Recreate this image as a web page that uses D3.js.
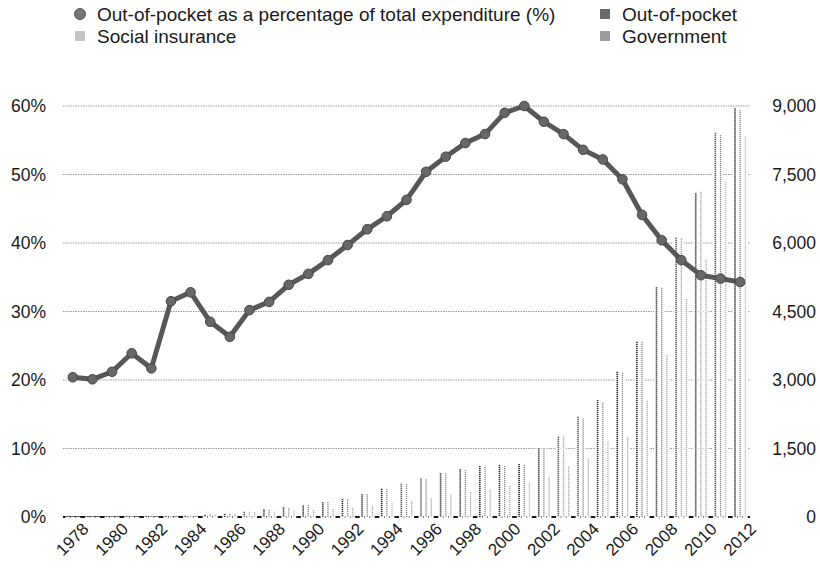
<!DOCTYPE html>
<html><head><meta charset="utf-8">
<script src="https://cdn.jsdelivr.net/npm/d3@7"></script>
<style>
body{margin:0;background:#fff}
svg{display:block}
text{font-family:"Liberation Sans",Arial,Helvetica,sans-serif;fill:#1a1a1a}
</style>
</head><body>
<svg id="c" width="820" height="569"></svg>
<script>
const years = [1978,1979,1980,1981,1982,1983,1984,1985,1986,1987,1988,1989,1990,1991,1992,1993,1994,1995,1996,1997,1998,1999,2000,2001,2002,2003,2004,2005,2006,2007,2008,2009,2010,2011,2012];
const oopPct = [20.4,20.1,21.2,23.9,21.7,31.5,32.8,28.5,26.3,30.2,31.4,33.9,35.5,37.5,39.7,42.0,43.9,46.3,50.4,52.6,54.6,55.9,59.0,60.0,57.7,55.9,53.6,52.2,49.3,44.1,40.4,37.5,35.3,34.8,34.3];
const outOfPocket = [8,10,12,15,17,20,26,45,65,117,168,212,250,321,394,496,620,730,845,956,1044,1117,1139,1161,1504,1759,2197,2562,3182,3839,5030,6117,7088,8416,8949];
const socialInsurance = [7,9,11,13,15,18,24,55,70,117,153,190,263,328,394,496,613,723,828,956,1029,1102,1117,1139,1504,1759,2161,2500,3160,3839,5021,6095,7124,8365,8912];
const government = [5,6,7,8,9,11,14,45,55,102,117,145,153,175,204,241,314,350,409,496,540,606,679,752,869,1102,1285,1650,1745,2547,3547,4774,5628,7343,8329];
const pctTicks = [0,10,20,30,40,50,60];
const valTicks = [0,1500,3000,4500,6000,7500,9000];

const seriesKeys = ["Out-of-pocket","Social insurance","Government"];
const seriesData = [outOfPocket, socialInsurance, government];
const seriesColor = ["#2a2a2a","#8a8a8a","#a8a8a8"];
const lineLabel = "Out-of-pocket as a percentage of total expenditure (%)";

const svg = d3.select("#c");
const mLeft = 63, mRight = 750, mTop = 106, mBottom = 517;

const x = d3.scaleBand().domain(years).range([mLeft, mRight]).padding(0);
const bw = x.bandwidth();
const inner = d3.scaleBand().domain(seriesKeys).range([bw/2 - 7.5, bw/2 + 7.5]).paddingInner(0.1);
const yL = d3.scaleLinear().domain([0, 60]).range([mBottom, mTop]);
const yR = d3.scaleLinear().domain([0, 9000]).range([mBottom, mTop]);

// gridlines
svg.append("g").selectAll("line").data(pctTicks.filter(d => d > 0)).join("line")
  .attr("x1", mLeft).attr("x2", mRight)
  .attr("y1", d => yL(d)).attr("y2", d => yL(d))
  .attr("stroke", "#9a9a9a").attr("stroke-width", 1).attr("stroke-dasharray", "1.5,1");

// baseline
svg.append("line").attr("x1", mLeft).attr("x2", mRight).attr("y1", yL(0)).attr("y2", yL(0))
  .attr("stroke", "#1a1a1a").attr("stroke-width", 2);

// bars
const barG = svg.append("g");
seriesKeys.forEach((k, si) => {
  const g = barG.append("g");
  const vals = seriesData[si];
  g.selectAll("rect").data(years).join("rect")
    .attr("x", (d) => x(d) + inner(k))
    .attr("width", inner.bandwidth())
    .attr("y", (d, i) => yR(vals[i]))
    .attr("height", (d, i) => yR(0) - yR(vals[i]) + 1.5)
    .attr("fill", "#fff");
  g.selectAll("line").data(years).join("line")
    .attr("x1", (d) => x(d) + inner(k) + inner.bandwidth()/2)
    .attr("x2", (d) => x(d) + inner(k) + inner.bandwidth()/2)
    .attr("y1", (d, i) => yR(vals[i]))
    .attr("y2", yR(0))
    .attr("stroke", seriesColor[si])
    .attr("stroke-width", si === 0 ? 1.6 : 1.3)
    .attr("stroke-dasharray", "1.2,0.8");
});

// line
const lineGen = d3.line().x((d, i) => x(years[i]) + bw/2).y(d => yL(d));
svg.append("path").datum(oopPct).attr("d", lineGen)
  .attr("fill", "none").attr("stroke", "#575757").attr("stroke-width", 5).attr("stroke-linejoin", "round");
svg.append("g").selectAll("circle").data(oopPct).join("circle")
  .attr("cx", (d, i) => x(years[i]) + bw/2).attr("cy", d => yL(d)).attr("r", 4.8)
  .attr("fill", "#676767").attr("stroke", "#474747").attr("stroke-width", 1);

// left axis
const axL = svg.append("g").attr("transform", "translate(46,0)")
  .call(d3.axisLeft(yL).tickValues(pctTicks).tickFormat(d => d + "%").tickSize(0).tickPadding(0));
axL.select(".domain").remove();
axL.selectAll("text").attr("font-size", 17.5).attr("font-family", null);

// right axis
const axR = svg.append("g").attr("transform", "translate(816,0)")
  .call(d3.axisLeft(yR).tickValues(valTicks).tickFormat(d3.format(",")).tickSize(0).tickPadding(0));
axR.select(".domain").remove();
axR.selectAll("text").attr("font-size", 17.5).attr("font-family", null);

// bottom axis labels
const axB = svg.append("g").attr("transform", `translate(0,${mBottom})`)
  .call(d3.axisBottom(x).tickValues(years.filter(d => d % 2 === 0)).tickSize(0));
axB.select(".domain").remove();
axB.selectAll("text").attr("font-size", 17).attr("font-family", null)
  .attr("y", 0).attr("dy", 0).attr("text-anchor", "end")
  .attr("transform", "translate(17,13) rotate(-45)");

// legend
const lg = svg.append("g");
lg.append("circle").attr("cx", 80).attr("cy", 14).attr("r", 5.5).attr("fill", "#777").attr("stroke", "#555");
lg.append("text").attr("x", 97).attr("y", 20.5).attr("font-size", 19).text(lineLabel);
const sq = [
  {label: seriesKeys[1], x: 75, y: 31, c: "#c4c4c4"},
  {label: seriesKeys[0], x: 600, y: 9, c: "#6a6a6a"},
  {label: seriesKeys[2], x: 600, y: 31, c: "#9c9c9c"}
];
sq.forEach(s => {
  lg.append("rect").attr("x", s.x).attr("y", s.y).attr("width", 10).attr("height", 10).attr("fill", s.c);
  lg.append("text").attr("x", s.x + 22).attr("y", s.y + 11.5).attr("font-size", 19).text(s.label);
});
</script>
</body></html>
